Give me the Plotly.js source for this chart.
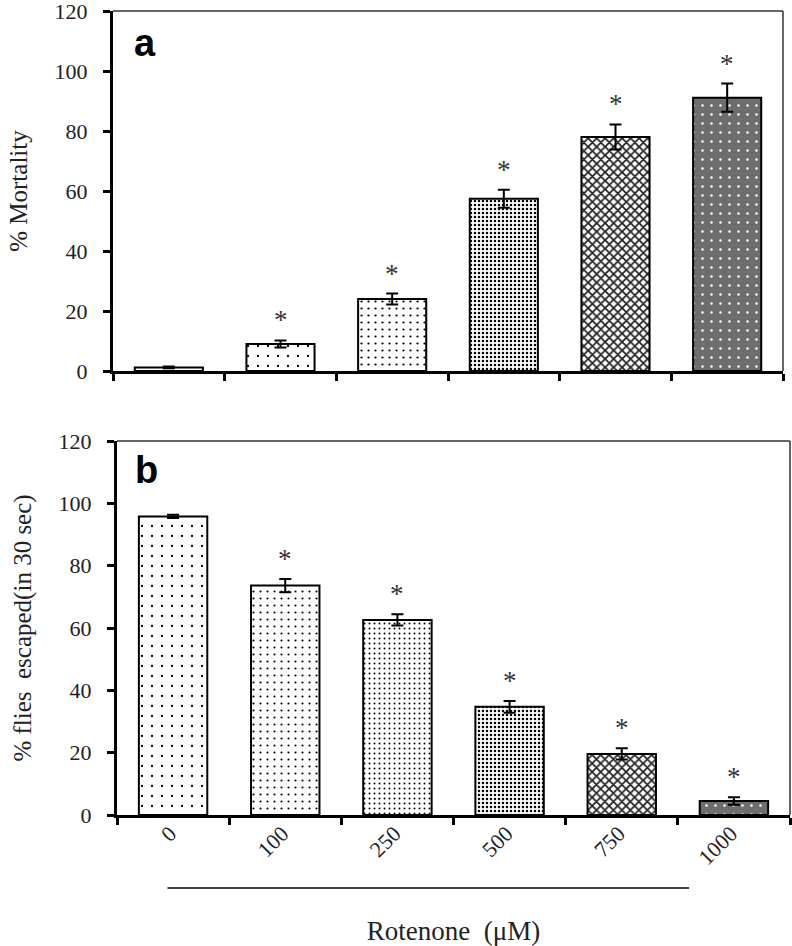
<!DOCTYPE html>
<html>
<head>
<meta charset="utf-8">
<script src="https://cdn.plot.ly/plotly-3.0.1.min.js"></script>
<style>html,body{margin:0;padding:0;background:#fff;}#chart{width:792px;height:946px;}</style>
</head>
<body>
<div id="chart"></div>
<script>
// ---- data ----
const concentrations = ['0', '100', '250', '500', '750', '1000'];   // Rotenone (µM)
const mortality      = [1.2, 9.0, 24.0, 57.4, 78.0, 91.1];            // % Mortality
const mortalityErr   = [0.3, 1.2, 1.8, 3.0, 4.2, 4.7];
const mortalitySig   = [false, true, true, true, true, true];
const escaped        = [95.8, 73.6, 62.6, 34.7, 19.6, 4.5];           // % flies escaped (in 30 sec)
const escapedErr     = [0.5, 2.1, 1.8, 1.9, 1.8, 1.2];
const escapedSig     = [false, true, true, true, true, true];

// ---- styles ----
const serif = 'Liberation Serif, Times New Roman, serif';
const patA = {
  shape:    ['', '.', '.', '.', 'x', '.'],
  size:     [8, 10, 7, 4, 6, 9],
  solidity: [0.2, 0.04, 0.08, 0.3, 0.5, 0.06],
  fgcolor:  ['#000', '#000', '#000', '#000', '#222', '#fff'],
  bgcolor:  ['#fff', '#fff', '#fff', '#fff', '#fff', '#6e6e6e']
};
const patB = {
  shape:    ['.', '.', '.', '.', 'x', '.'],
  size:     [10, 7, 5, 4, 6, 9],
  solidity: [0.04, 0.07, 0.12, 0.3, 0.5, 0.06],
  fgcolor:  ['#000', '#000', '#000', '#000', '#222', '#fff'],
  bgcolor:  ['#fff', '#fff', '#fff', '#fff', '#fff', '#6e6e6e']
};

function barTrace(y, err, pat, xa, ya) {
  return {
    type: 'bar', x: concentrations, y: y, xaxis: xa, yaxis: ya,
    marker: { color: '#fff', line: { color: '#000', width: 2 }, pattern: pat },
    error_y: { type: 'data', array: err, visible: true, color: '#000', thickness: 2, width: 6 },
    hoverinfo: 'x+y'
  };
}

const traces = [
  barTrace(mortality, mortalityErr, patA, 'x', 'y'),
  barTrace(escaped, escapedErr, patB, 'x2', 'y2')
];

const annotations = [];
function addStars(vals, errs, sig, xr, yr) {
  for (let i = 0; i < vals.length; i++) {
    if (!sig[i]) continue;
    annotations.push({
      xref: xr, yref: yr, x: i, y: vals[i] + errs[i],   // x = category index of concentrations[i]
      text: '*', showarrow: false, yanchor: 'middle', yshift: 20,
      font: { family: serif, size: 27, color: '#333' }
    });
  }
}
addStars(mortality, mortalityErr, mortalitySig, 'x', 'y');
addStars(escaped, escapedErr, escapedSig, 'x2', 'y2');

annotations.push({ xref: 'x domain', yref: 'y domain', x: 0.028, y: 0.975, xanchor: 'left', yanchor: 'top',
  text: '<b>a</b>', showarrow: false, font: { family: 'Liberation Sans, Arial, sans-serif', size: 38, color: '#000' } });
annotations.push({ xref: 'x2 domain', yref: 'y2 domain', x: 0.024, y: 0.985, xanchor: 'left', yanchor: 'top',
  text: '<b>b</b>', showarrow: false, font: { family: 'Liberation Sans, Arial, sans-serif', size: 38, color: '#000' } });

function xAxis(domain, anchor, labels) {
  return {
    domain: domain, anchor: anchor, type: 'category', range: [-0.5, 5.5],
    tickson: 'boundaries', ticks: 'outside', ticklen: 7, tickwidth: 3, tickcolor: '#000',
    showline: true, linewidth: 3, linecolor: '#000', showgrid: false, zeroline: false,
    showticklabels: labels, tickangle: -45, ticklabeloverflow: 'allow',
    ticklabelstandoff: -6, ticklabelshift: -3,
    tickfont: { family: serif, size: 22, color: '#222' },
    fixedrange: true
  };
}
function yAxis(domain, anchor, title) {
  return {
    domain: domain, anchor: anchor, range: [0, 120], dtick: 20, tick0: 0,
    ticks: 'outside', ticklen: 7, tickwidth: 3, tickcolor: '#000',
    showline: true, linewidth: 3, linecolor: '#000', showgrid: false, zeroline: false,
    tickfont: { family: serif, size: 22, color: '#222' }, ticklabelstandoff: 11, ticklabeloverflow: 'allow',
    title: { text: title, font: { family: serif, size: 25, color: '#222' }, standoff: 20 },
    fixedrange: true
  };
}

const xa = xAxis([113 / 792, 783 / 792], 'y', false);
const xb = xAxis([117 / 792, 790 / 792], 'y2', true);
xb.title = { text: 'Rotenone  (μM)', font: { family: serif, size: 27, color: '#222' }, standoff: 55 };

const layout = {
  width: 792, height: 946,
  margin: { l: 0, r: 0, t: 0, b: 0 },
  paper_bgcolor: '#fff', plot_bgcolor: '#fff',
  showlegend: false, bargap: 0.39,
  font: { family: serif, color: '#222' },
  xaxis: xa,
  yaxis: yAxis([1 - 371 / 946, 1 - 11 / 946], 'x', '% Mortality'),
  xaxis2: xb,
  yaxis2: yAxis([1 - 815 / 946, 1 - 441 / 946], 'x2', '% flies  escaped(in 30 sec)'),
  annotations: annotations,
  shapes: [
    { type: 'line', xref: 'x domain', yref: 'y domain', x0: 0, x1: 1, y0: 1, y1: 1, line: { color: '#333', width: 1.5 } },
    { type: 'line', xref: 'x domain', yref: 'y domain', x0: 1, x1: 1, y0: 0, y1: 1, line: { color: '#333', width: 1.5 } },
    { type: 'line', xref: 'x2 domain', yref: 'y2 domain', x0: 0, x1: 1, y0: 1, y1: 1, line: { color: '#333', width: 1.5 } },
    { type: 'line', xref: 'x2 domain', yref: 'y2 domain', x0: 1, x1: 1, y0: 0, y1: 1, line: { color: '#333', width: 1.5 } },
    { type: 'line', xref: 'x2', yref: 'paper', x0: -0.05, x1: 4.6, y0: 1 - 888 / 946, y1: 1 - 888 / 946, line: { color: '#000', width: 1.5 } }
  ]
};

Plotly.newPlot('chart', traces, layout, { displayModeBar: false, staticPlot: true });
</script>
</body>
</html>
